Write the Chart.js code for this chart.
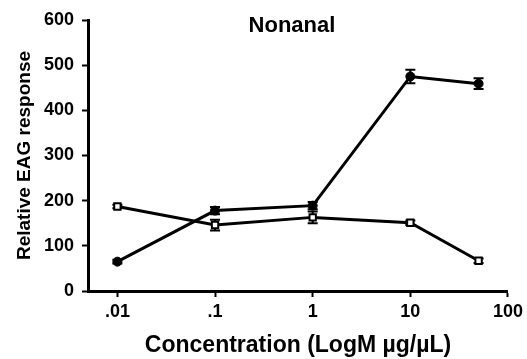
<!DOCTYPE html>
<html>
<head>
<meta charset="utf-8">
<script src="https://cdn.jsdelivr.net/npm/chart.js@4"></script>
<style>
  html, body { margin: 0; padding: 0; background: #fff; }
  #wrap { width: 527px; height: 359px; }
</style>
</head>
<body>
<div id="wrap"><canvas id="chartEAG" width="527" height="359"></canvas></div>
<script>
// concentraciones (µg/µL) y respuesta EAG relativa
const concentraciones = [0.01, 0.1, 1, 10, 50];
const tickValores = [0.01, 0.1, 1, 10, 100];
const tickEtiquetas = ['.01', '.1', '1', '10', '100'];

const serieLlena = [65, 178, 189, 475, 459];
const errorLlena = [4, 8, 8, 15, 12];
const serieAbierta = [187, 146, 163, 151, 67];
const errorAbierta = [4, 12, 13, 5, 5];

const fuente = 'Arial, "Liberation Sans", sans-serif';

// barras de error dibujadas con las escalas del grafico
const barrasError = {
    id: 'barrasError',
    beforeDatasetsDraw(chart) {
        const { ctx, scales } = chart;
        ctx.save();
        ctx.strokeStyle = '#000';
        ctx.lineWidth = 2;
        chart.data.datasets.forEach(ds => {
            ds.errores.forEach((e, i) => {
                const px = scales.x.getPixelForValue(concentraciones[i]);
                const arriba = scales.y.getPixelForValue(ds.data[i].y + e);
                const abajo = scales.y.getPixelForValue(ds.data[i].y - e);
                ctx.beginPath();
                ctx.moveTo(px, arriba); ctx.lineTo(px, abajo);
                ctx.moveTo(px - 5, arriba); ctx.lineTo(px + 5, arriba);
                ctx.moveTo(px - 5, abajo); ctx.lineTo(px + 5, abajo);
                ctx.stroke();
            });
        });
        ctx.restore();
    },
    afterDraw(chart) {
        const { ctx } = chart;
        ctx.save();
        ctx.fillStyle = '#000';
        ctx.font = 'bold 22px ' + fuente;
        ctx.textAlign = 'center';
        ctx.textBaseline = 'middle';
        ctx.fillText('Nonanal', 292, 26);
        ctx.restore();
    }
};

new Chart(document.getElementById('chartEAG'), {
    type: 'scatter',
    data: {
        datasets: [{
            label: 'llena',
            data: concentraciones.map((x, i) => ({ x, y: serieLlena[i] })),
            errores: errorLlena,
            showLine: true,
            borderColor: '#000',
            borderWidth: 3,
            backgroundColor: '#000',
            pointStyle: 'circle',
            pointRadius: 4.5,
            pointBorderWidth: 1
        }, {
            label: 'abierta',
            data: concentraciones.map((x, i) => ({ x, y: serieAbierta[i] })),
            errores: errorAbierta,
            showLine: true,
            borderColor: '#000',
            borderWidth: 3,
            backgroundColor: '#fff',
            pointStyle: 'rect',
            pointRadius: 4.5,
            pointBorderWidth: 2
        }]
    },
    options: {
        responsive: false,
        animation: false,
        layout: { padding: { left: 13, right: 16, top: 20, bottom: 0 } },
        plugins: {
            legend: { display: false },
            tooltip: { enabled: false }
        },
        scales: {
            x: {
                type: 'logarithmic',
                min: 0.005,
                max: 100,
                afterBuildTicks: scale => {
                    scale.ticks = tickValores.map(v => ({ value: v }));
                },
                afterFit: scale => { scale.height = 68; },
                border: { color: '#000', width: 3 },
                grid: { drawOnChartArea: false, drawTicks: true, tickLength: 6, tickColor: '#000', tickWidth: 2 },
                ticks: {
                    color: '#000',
                    font: { family: fuente, size: 18, weight: 'bold' },
                    padding: 4,
                    maxRotation: 0,
                    autoSkip: false,
                    callback: (v) => {
                        const k = tickValores.indexOf(v);
                        return k >= 0 ? tickEtiquetas[k] : '';
                    }
                },
                title: {
                    display: true,
                    text: 'Concentration (LogM µg/µL)',
                    color: '#000',
                    font: { family: fuente, size: 23, weight: 'bold' },
                    padding: { top: 4, bottom: 0 }
                }
            },
            y: {
                min: 0,
                max: 600,
                afterFit: scale => { scale.width = 75; },
                border: { color: '#000', width: 3 },
                grid: { drawOnChartArea: false, drawTicks: true, tickLength: 6, tickColor: '#000', tickWidth: 2 },
                ticks: {
                    stepSize: 100,
                    color: '#000',
                    font: { family: fuente, size: 18, weight: 'bold' },
                    padding: 8
                },
                title: {
                    display: true,
                    text: 'Relative EAG response',
                    color: '#000',
                    font: { family: fuente, size: 19, weight: 'bold' },
                    padding: { top: 0, bottom: 0 }
                }
            }
        }
    },
    plugins: [barrasError]
});
</script>
</body>
</html>
